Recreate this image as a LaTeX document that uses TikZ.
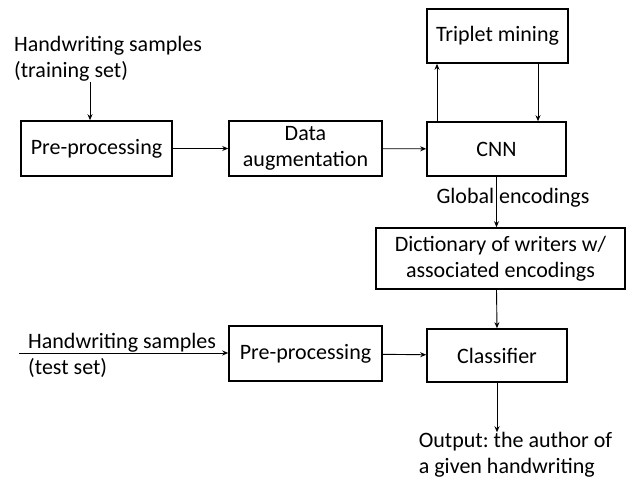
\documentclass[tikz,border=0pt]{standalone}
\usepackage{fontspec}
\setmainfont{Carlito}
\usetikzlibrary{arrows.meta}
\frenchspacing

\begin{document}
\begin{tikzpicture}[x=1pt, y=-1pt, every node/.style={font=\fontsize{22}{26}\selectfont}]
            % Define styles
            \tikzstyle{block} = [rectangle, draw=black, line width=1.6pt, inner sep=0pt, align=center]
            \tikzstyle{label} = [inner sep=0pt, align=left]
            \tikzstyle{arrow} = [line width=0.9pt, -{Stealth[length=6pt, width=5pt]}]

            \useasboundingbox (0,0) rectangle (629,481);

            % Training row
            \node (pretrain) [block, minimum width=151pt, minimum height=55pt] at (96.5,148.5) {Pre-processing};
            \node (augment) [block, minimum width=153pt, minimum height=55pt] at (305.5,148.5) {Data\\augmentation};
            \node (cnn) [block, minimum width=139pt, minimum height=54pt] at (496.5,149) {CNN};
            \node (triplet) [block, minimum width=141pt, minimum height=54pt] at (497.5,36) {Triplet mining};

            % Middle
            \node (dict) [block, minimum width=249pt, minimum height=61pt] at (500.5,258.5) {Dictionary of writers w/\\associated encodings};
            \node (global) [label] at (513,198) {Global encodings};

            % Test row
            \node (pretest) [block, minimum width=153pt, minimum height=55pt] at (305.5,353.5) {Pre-processing};
            \node (classifier) [block, minimum width=140pt, minimum height=53pt] at (497,355.5) {Classifier};

            % Free texts
            \node (trainlabel) [label, anchor=west] at (14,59) {Handwriting samples\\(training set)};
            \node (testlabel) [label, anchor=west] at (28,355) {Handwriting samples\\(test set)};
            \node (output) [label] at (515.5,455) {Output: the author of\\a given handwriting};

            \coordinate (tin) at ([xshift=-6.5pt]pretrain.north);
            \coordinate (testin) at (19,353);

            % Arrows
            \draw [arrow] (trainlabel.south -| tin) -- (tin);
            \draw [arrow] (pretrain) -- (augment);
            \draw [arrow] (augment) -- (cnn);
            \draw [arrow] ([xshift=-59.5pt]cnn.north) -- ([xshift=-59.5pt]cnn.north |- triplet.south);
            \draw [arrow] ([xshift=40.5pt]triplet.south) -- ([xshift=40.5pt]triplet.south |- cnn.north);
            \draw [arrow] (cnn.south) -- (cnn.south |- dict.north);
            \draw [arrow] (dict.south -| cnn.south) -- (classifier.north);
            \draw [arrow] (testin) -- (testin -| pretest.west);
            \draw [arrow] (pretest) -- (classifier);
            \draw [arrow] (classifier.south) -- (classifier.south |- output.north);
        \end{tikzpicture}
\end{document}
